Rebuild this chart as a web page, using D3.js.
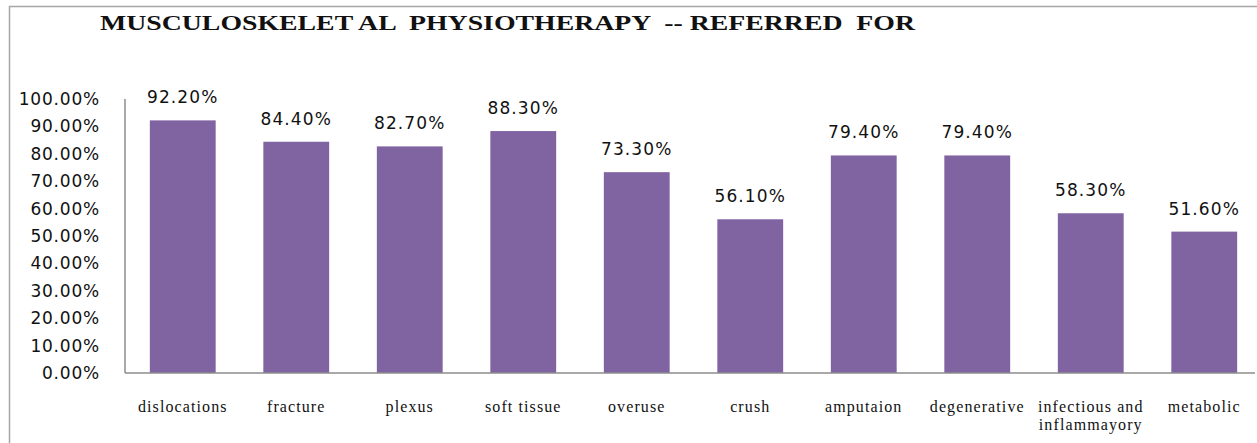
<!doctype html>
<html lang="en">
  <head>
    <meta charset="UTF-8" />
    <title>Musculoskeletal Physiotherapy -- Referred For</title>
    <style>
      body { margin: 0; background: #fff; }
      .val { font-family: "DejaVu Sans", sans-serif; font-size: 17px; fill: #111; letter-spacing: 1.1px; }
      .ytick { font-family: "DejaVu Sans", sans-serif; font-size: 17px; fill: #111; letter-spacing: 0.8px; }
      .cat { font-family: "Liberation Serif", serif; font-size: 16px; fill: #111; letter-spacing: 1.1px; }
      .title { font-family: "Liberation Serif", serif; font-size: 20px; font-weight: bold; fill: #111; white-space: pre; }
    </style>
  </head>
  <body>
    <div id="chart"></div>
    <script src="https://d3js.org/d3.v7.min.js"></script>
    <script>
      // chart data
      const categories = ['dislocations', 'fracture', 'plexus', 'soft tissue', 'overuse', 'crush',
        'amputaion', 'degenerative', 'infectious and\ninflammayory', 'metabolic'];
      const values = [0.922, 0.844, 0.827, 0.883, 0.733, 0.561, 0.794, 0.794, 0.583, 0.516];
      const yTicks = [0, 0.1, 0.2, 0.3, 0.4, 0.5, 0.6, 0.7, 0.8, 0.9, 1.0];
      const title = 'MUSCULOSKELET AL  PHYSIOTHERAPY  -- REFERRED  FOR';

      const width = 1257, height = 443;
      const svg = d3.select('#chart').append('svg').attr('width', width).attr('height', height);

      // outer chart border (runs off right and bottom edges)
      svg.append('rect')
        .attr('x', 9.5).attr('y', 6.5)
        .attr('width', 1300).attr('height', 500)
        .attr('fill', 'none').attr('stroke', '#a6a6a6').attr('stroke-width', 1.5);

      // title glyphs in the original are wide, so stretch them to fit
      svg.append('text').attr('class', 'title')
        .attr('x', 100).attr('y', 30)
        .attr('textLength', 815).attr('lengthAdjust', 'spacingAndGlyphs')
        .text(title);

      const x = d3.scaleBand().domain(categories).range([126, 1261]).paddingInner(0.42).paddingOuter(0.21);
      const y = d3.scaleLinear().domain([0, 1]).range([373, 99]);

      // y tick labels (no tick marks in original)
      svg.selectAll('.ytick').data(yTicks).enter().append('text')
        .attr('class', 'ytick')
        .attr('x', 100).attr('y', (d) => y(d) + 6)
        .attr('text-anchor', 'end')
        .text(d3.format('.2%'));

      // bars
      svg.selectAll('.bar').data(values).enter().append('rect')
        .attr('class', 'bar')
        .attr('x', (d, i) => x(categories[i]))
        .attr('y', (d) => y(d))
        .attr('width', x.bandwidth())
        .attr('height', (d) => y(0) - y(d))
        .attr('fill', '#8064a2');

      // value labels
      svg.selectAll('.val').data(values).enter().append('text')
        .attr('class', 'val')
        .attr('x', (d, i) => x(categories[i]) + x.bandwidth() / 2)
        .attr('y', (d) => y(d) - 17)
        .attr('text-anchor', 'middle')
        .text((d) => d3.format('.2%')(d));

      // axes lines
      svg.append('line').attr('x1', 125).attr('x2', 125).attr('y1', 99).attr('y2', 373)
        .attr('stroke', '#8c8c8c').attr('stroke-width', 1.5);
      svg.append('line').attr('x1', 125).attr('x2', 1255).attr('y1', 373).attr('y2', 373)
        .attr('stroke', '#8c8c8c').attr('stroke-width', 1.5);

      // category labels
      const cat = svg.selectAll('.cat').data(categories).enter().append('text')
        .attr('class', 'cat')
        .attr('x', (d) => x(d) + x.bandwidth() / 2)
        .attr('y', 412)
        .attr('text-anchor', 'middle');
      cat.selectAll('tspan').data((d) => d.split('\n')).enter().append('tspan')
        .attr('x', function () { return this.parentNode.getAttribute('x'); })
        .attr('dy', (d, i) => (i === 0 ? 0 : 18))
        .text((d) => d);
    </script>
  </body>
</html>
